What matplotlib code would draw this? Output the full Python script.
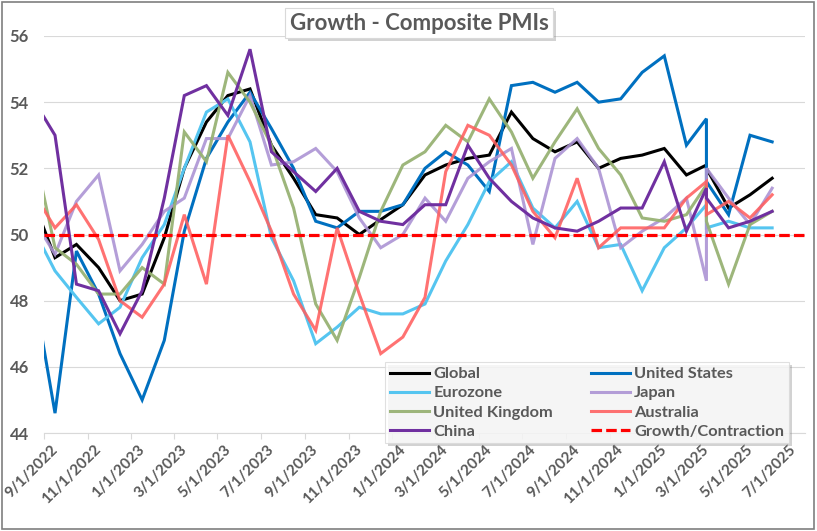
import matplotlib
matplotlib.use("Agg")
import matplotlib.pyplot as plt
import matplotlib.dates as mdates
import matplotlib.transforms as mtransforms
from matplotlib.patches import Rectangle
from matplotlib.ticker import FixedLocator, FuncFormatter
import pandas as pd

plt.rcParams['font.family'] = ['Lato', 'DejaVu Sans']

# ---------------- data ----------------
# readings Jul-2022 .. Jun-2025; each month's reading is plotted mid-following-month,
# Feb and Mar 2025 readings share one date in the source sheet
plot_dates = list(pd.date_range("2022-08-16", periods=31, freq=pd.DateOffset(months=1))) + \
    [pd.Timestamp(d) for d in ["2025-03-16", "2025-03-16", "2025-04-16", "2025-05-16", "2025-06-16"]]

global_pmi = [51.05, 49.3, 49.7, 49.0, 48.0, 48.2, 49.9, 52.0, 53.4, 54.2,
              54.4, 52.7, 51.7, 50.6, 50.5, 50.0, 50.45, 50.9, 51.8, 52.1,
              52.3, 52.4, 53.7, 52.9, 52.5, 52.8, 52.0, 52.3, 52.4, 52.6,
              51.8, 52.1, 52.0, 50.8, 51.2, 51.7]
united_states = [48.5, 44.6, 49.5, 48.2, 46.4, 45.0, 46.8, 50.1, 52.3, 53.4,
                 54.3, 53.2, 52.0, 50.4, 50.2, 50.7, 50.7, 50.9, 52.0, 52.5,
                 52.1, 51.3, 54.5, 54.6, 54.3, 54.6, 54.0, 54.1, 54.9, 55.4,
                 52.7, 53.5, 51.6, 50.6, 53.0, 52.8]
eurozone = [50.2, 48.9, 48.1, 47.3, 47.8, 49.3, 50.3, 52.0, 53.7, 54.1,
            52.8, 49.9, 48.6, 46.7, 47.2, 47.8, 47.6, 47.6, 47.9, 49.2,
            50.3, 51.6, 52.2, 50.8, 50.2, 51.0, 49.6, 49.7, 48.3, 49.6,
            50.2, 50.9, 50.2, 50.4, 50.2, 50.2]
japan = [50.5, 49.4, 51.0, 51.8, 48.9, 49.7, 50.7, 51.1, 52.9, 52.9,
         54.2, 52.1, 52.2, 52.6, 51.9, 50.5, 49.6, 50.0, 51.1, 50.4,
         51.7, 52.2, 52.6, 49.7, 52.3, 52.9, 52.0, 49.6, 50.1, 50.5,
         51.1, 48.6, 52.0, 51.1, 50.3, 51.4]
united_kingdom = [52.7, 49.6, 49.1, 48.2, 48.2, 49.0, 48.5, 53.1, 52.2, 54.9,
                  54.0, 52.7, 50.8, 47.9, 46.8, 48.7, 50.7, 52.1, 52.5, 53.3,
                  52.8, 54.1, 53.1, 51.7, 52.8, 53.8, 52.6, 51.8, 50.5, 50.4,
                  50.6, 51.5, 50.4, 48.5, 50.3, 50.7]
australia = [51.3, 50.2, 50.9, 49.85, 48.0, 47.5, 48.5, 50.6, 48.5, 53.0,
             51.6, 50.1, 48.2, 47.1, 50.2, 48.2, 46.4, 46.9, 48.1, 51.9,
             53.3, 53.0, 52.1, 50.7, 49.9, 51.7, 49.6, 50.2, 50.2, 50.2,
             51.1, 51.6, 50.6, 51.0, 50.5, 51.2]
china = [54.1, 53.0, 48.5, 48.3, 47.0, 48.3, 51.1, 54.2, 54.5, 53.6,
         55.6, 52.5, 51.9, 51.3, 52.0, 50.7, 50.4, 50.3, 50.9, 50.9,
         52.7, 51.7, 51.0, 50.5, 50.2, 50.1, 50.4, 50.8, 50.8, 52.2,
         50.1, 51.4, 51.1, 50.2, 50.4, 50.7]
threshold = 50

tick_dates = pd.date_range("2022-09-01", "2025-07-01", freq=pd.DateOffset(months=2))
y_ticks = [44, 46, 48, 50, 52, 54, 56]
title = "Growth - Composite PMIs"

# ---------------- figure ----------------
W, H = 817, 531
fig = plt.figure(figsize=(W / 100, H / 100), dpi=100)
fig.patch.set_facecolor("white")


def fx(px):
    return px / W


def fy(py):
    return 1 - py / H


left, right, top, bottom = 44.3, 805, 36, 433
ax = fig.add_axes([fx(left), fy(bottom), fx(right) - fx(left), (bottom - top) / H])

series = [
    ("Global", global_pmi, "#000000", 1.0),
    ("United States", united_states, "#0070C0", 1.0),
    ("Eurozone", eurozone, "#55C5F0", 1.0),
    ("Japan", japan, "#AC94D4", 0.9),
    ("United Kingdom", united_kingdom, "#98B274", 0.95),
    ("Australia", australia, "#FF5F5F", 0.88),
    ("China", china, "#7030A0", 1.0),
]
handles = {}
for name, vals, col, a in series:
    ln, = ax.plot(plot_dates, vals, color=col, lw=2.2, alpha=a, label=name,
                  solid_joinstyle="miter")
    handles[name] = ln
thr = ax.axhline(threshold, color="#FF0000", lw=2.3, dashes=(3.3, 1.3),
                 label="Growth/Contraction")
handles["Growth/Contraction"] = thr

ax.set_xlim(pd.Timestamp("2022-09-01"), pd.Timestamp("2025-08-01"))
ax.set_ylim(44, 56)
ax.set_yticks(y_ticks)
ax.grid(axis="y", color="#D9D9D9", lw=0.8)
ax.set_axisbelow(True)
for s in ["top", "right", "left"]:
    ax.spines[s].set_visible(False)
ax.spines["bottom"].set_color("#D9D9D9")
ax.spines["bottom"].set_linewidth(0.8)

ax.xaxis.set_major_locator(FixedLocator(mdates.date2num(tick_dates)))
ax.xaxis.set_major_formatter(FuncFormatter(
    lambda v, p: (lambda d: f"{d.month}/{d.day}/{d.year}")(mdates.num2date(v))))
ax.tick_params(axis="x", length=4, color="#D9D9D9", width=0.8, pad=3,
               labelsize=11, labelcolor="#595959")
ax.tick_params(axis="y", length=0, pad=11, labelsize=12, labelcolor="#595959")
for lab in ax.get_yticklabels():
    lab.set_fontweight("bold")
offset = mtransforms.ScaledTranslation(16 / 100, 0, fig.dpi_scale_trans)
for lab in ax.get_xticklabels():
    lab.set_rotation(45)
    lab.set_ha("right")
    lab.set_fontweight("bold")
    lab.set_transform(lab.get_transform() + offset)

# legend (Excel row-wise order -> matplotlib column-wise)
order = ["Global", "Eurozone", "United Kingdom", "China",
         "United States", "Japan", "Australia", "Growth/Contraction"]
leg = fig.legend([handles[n] for n in order], order, ncol=2,
                 loc="upper left", bbox_to_anchor=(fx(385), fy(362)),
                 frameon=True, fancybox=False, shadow=False,
                 prop={"weight": "bold", "size": 11.8},
                 handlelength=2.4, handletextpad=0.25, labelspacing=0.28,
                 columnspacing=2.3, borderpad=0.3, borderaxespad=0)
for t in leg.get_texts():
    t.set_color("#595959")
leg.get_frame().set_edgecolor("#D9D9D9")
leg.get_frame().set_linewidth(0.8)
leg.set_zorder(10)

# legend shadow
fig.canvas.draw()
bb = leg.get_window_extent()
inv = fig.transFigure.inverted()
(x0, y0), (x1, y1) = inv.transform([[bb.x0, bb.y0], [bb.x1, bb.y1]])
fig.add_artist(Rectangle((x0 + fx(3), y0 - 3 / H), x1 - x0, y1 - y0,
                         transform=fig.transFigure, facecolor="#7F7F7F",
                         alpha=0.35, edgecolor="none", zorder=9))

# title box with shadow
tx0, tx1, ty0, ty1 = 285, 553, 8, 38
fig.add_artist(Rectangle((fx(tx0 + 3), fy(ty1 + 3)), fx(tx1) - fx(tx0), (ty1 - ty0) / H,
                         transform=fig.transFigure, facecolor="#7F7F7F", alpha=0.35,
                         edgecolor="none", zorder=11))
fig.add_artist(Rectangle((fx(tx0), fy(ty1)), fx(tx1) - fx(tx0), (ty1 - ty0) / H,
                         transform=fig.transFigure, facecolor="white",
                         edgecolor="#D9D9D9", lw=0.8, zorder=12))
fig.text(fx((tx0 + tx1) / 2), fy((ty0 + ty1) / 2), title, ha="center", va="center",
         fontsize=16, fontweight="bold", color="#595959", zorder=13)

# outer border
fig.add_artist(Rectangle((fx(1.5), fy(529)), fx(814) - fx(1.5), 527.5 / H,
                         transform=fig.transFigure, facecolor="none",
                         edgecolor="#7F7F7F", lw=1.2, zorder=20))

fig.savefig("out.png", dpi=100)
